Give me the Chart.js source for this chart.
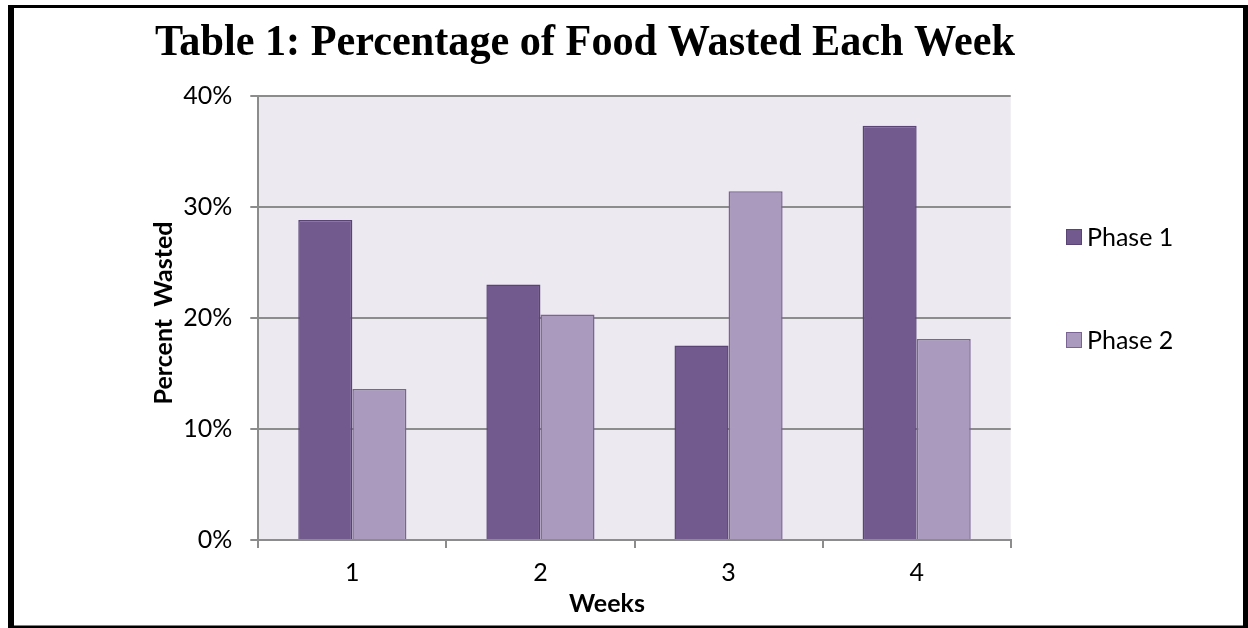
<!DOCTYPE html>
<html>
<head>
<meta charset="utf-8">
<script src="https://cdn.jsdelivr.net/npm/chart.js@4/dist/chart.umd.min.js"></script>
<style>
  html, body { margin: 0; padding: 0; background: #ffffff; }
  #wrap { position: relative; width: 1248px; height: 628px; }
</style>
</head>
<body>
<div id="wrap"><canvas id="chart" width="1248" height="628"></canvas></div>
<script>
// Weekly share of food wasted, two phases
const weeks = ['1', '2', '3', '4'];
const phase1 = [28.8, 23.0, 17.5, 37.3];
const phase2 = [13.6, 20.3, 31.4, 18.1];
const yTicks = [0, 10, 20, 30, 40];
const seriesNames = ['Phase 1', 'Phase 2'];

const chartTitle = 'Table 1: Percentage of Food Wasted Each Week';
const xTitle = 'Weeks';
const yTitle = 'Percent  Wasted';

const SANS = 'Lato, "Open Sans", sans-serif';

// Lavender plot background and the black page frame
const framePlugin = {
  id: 'frame',
  beforeDraw(chart) {
    const { ctx, chartArea: a } = chart;
    ctx.save();
    ctx.fillStyle = '#ffffff';
    ctx.fillRect(0, 0, chart.width, chart.height);
    ctx.fillStyle = '#ECE9F0';
    ctx.fillRect(a.left, a.top, a.right - a.left, a.bottom - a.top);
    ctx.restore();
  },
  afterDraw(chart) {
    const { ctx } = chart;
    ctx.save();
    ctx.fillStyle = '#000000';
    ctx.fillRect(8, 5, 1240, 3);      // top
    ctx.fillRect(8, 5, 6, 623);       // left
    ctx.fillRect(1243, 5, 5, 623);    // right
    ctx.fillRect(8, 625.5, 1240, 3);  // bottom

    // heading
    ctx.font = 'bold 45px "Liberation Serif", "Times New Roman", serif';
    ctx.textBaseline = 'alphabetic';
    ctx.textAlign = 'left';
    const w = ctx.measureText(chartTitle).width;
    const target = 860;
    const sx = target / w;
    ctx.translate(155, 54.5);
    ctx.scale(sx, 1);
    ctx.fillText(chartTitle, 0, 0);
    ctx.restore();

    // axis titles
    ctx.save();
    ctx.fillStyle = '#000000';
    ctx.font = 'bold 25px ' + SANS;
    ctx.textAlign = 'center';
    ctx.textBaseline = 'middle';
    ctx.fillText(xTitle, 607, 604);
    ctx.translate(164, 313);
    ctx.rotate(-Math.PI / 2);
    ctx.fillText(yTitle, 0, 0);
    ctx.restore();

    // legend
    ctx.save();
    ctx.font = '25px ' + SANS;
    ctx.textAlign = 'left';
    ctx.textBaseline = 'middle';
    const rows = [237, 340];
    chart.data.datasets.forEach((ds, i) => {
      const y = rows[i];
      ctx.fillStyle = ds.backgroundColor;
      ctx.fillRect(1066, y - 8, 16, 16);
      ctx.strokeStyle = ds.borderColor;
      ctx.lineWidth = 1;
      ctx.strokeRect(1066.5, y - 7.5, 15, 15);
      ctx.fillStyle = '#000000';
      ctx.fillText(ds.label, 1087, y + 1);
    });
    ctx.restore();
  }
};

new Chart(document.getElementById('chart'), {
  type: 'bar',
  data: {
    labels: weeks,
    datasets: [
      {
        label: seriesNames[0],
        data: phase1,
        backgroundColor: '#72598E',
        borderColor: '#5A4476',
        borderWidth: 1.5
      },
      {
        label: seriesNames[1],
        data: phase2,
        backgroundColor: '#AA9BBE',
        borderColor: '#7A6494',
        borderWidth: 1.5
      }
    ]
  },
  options: {
    responsive: false,
    animation: false,
    devicePixelRatio: 1,
    layout: { padding: { left: 0, top: 95.7, right: 237.3, bottom: 0 } },
    datasets: {
      bar: { categoryPercentage: 0.575, barPercentage: 1.0 }
    },
    plugins: {
      legend: { display: false },
      title: { display: false },
      tooltip: { enabled: false }
    },
    scales: {
      x: {
        offset: true,
        grid: {
          offset: true,
          drawOnChartArea: false,
          drawTicks: true,
          tickLength: 8,
          color: '#8C8C8C',
          lineWidth: 2
        },
        border: { display: true, color: '#8C8C8C', width: 2 },
        ticks: {
          color: '#000000',
          font: { family: SANS, size: 25 },
          padding: 10,
          maxRotation: 0
        },
        afterFit(scale) { scale.height = 88; }
      },
      y: {
        min: 0,
        max: 40,
        afterBuildTicks(scale) { scale.ticks = yTicks.map(v => ({ value: v })); },
        grid: {
          color: '#8C8C8C',
          lineWidth: 2,
          tickLength: 8,
          drawTicks: true
        },
        border: { display: true, color: '#8C8C8C', width: 2 },
        ticks: {
          color: '#000000',
          font: { family: SANS, size: 25 },
          padding: 18,
          callback: v => v + '%'
        },
        afterFit(scale) { scale.width = 258.3; }
      }
    }
  },
  plugins: [framePlugin]
});
</script>
</body>
</html>
